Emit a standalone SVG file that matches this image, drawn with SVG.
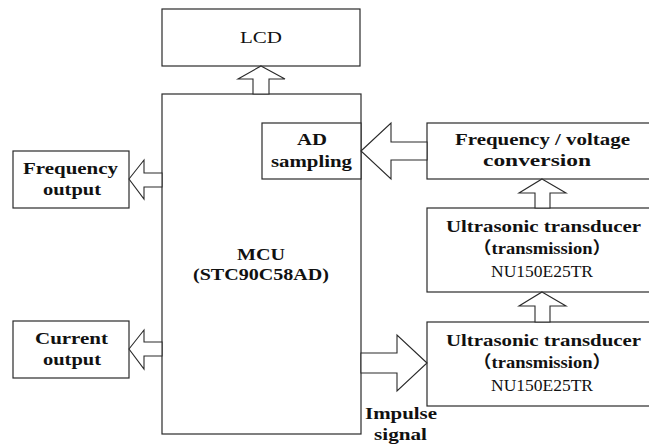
<svg xmlns="http://www.w3.org/2000/svg" width="649" height="444" viewBox="0 0 649 444">
<style>
.box{fill:#fff;stroke:#2a2a2a;stroke-width:1.2}
.arr{fill:#fff;stroke:#2a2a2a;stroke-width:1.1;stroke-linejoin:miter}
.b{font-family:"Liberation Serif","Noto Sans CJK SC",serif;font-weight:bold;font-size:17px;fill:#111}
.r{font-family:"Liberation Serif","Noto Sans CJK SC",serif;font-size:17px;fill:#111}
</style>
<rect width="649" height="444" fill="#fff"/>
<g id="mcu">
<rect class="box" x="162" y="94" width="199" height="340"/>
<text class="b" x="237" y="260" textLength="48" lengthAdjust="spacingAndGlyphs">MCU</text>
<text class="b" x="193" y="280" textLength="136" lengthAdjust="spacingAndGlyphs">(STC90C58AD)</text>
</g>
<g id="lcd">
<rect class="box" x="162" y="9" width="198" height="57"/>
<text class="r" x="240" y="43" textLength="42" lengthAdjust="spacingAndGlyphs">LCD</text>
</g>
<g id="ad">
<rect class="box" x="262" y="123" width="99" height="56"/>
<text class="b" x="297" y="145" textLength="30" lengthAdjust="spacingAndGlyphs">AD</text>
<text class="b" x="271" y="167" textLength="81" lengthAdjust="spacingAndGlyphs">sampling</text>
</g>
<g id="freq-out">
<rect class="box" x="13" y="151" width="116" height="57"/>
<text class="b" x="23" y="174" textLength="95" lengthAdjust="spacingAndGlyphs">Frequency</text>
<text class="b" x="43" y="195" textLength="58" lengthAdjust="spacingAndGlyphs">output</text>
</g>
<g id="current-out">
<rect class="box" x="13" y="321" width="116" height="57"/>
<text class="b" x="35" y="344" textLength="73" lengthAdjust="spacingAndGlyphs">Current</text>
<text class="b" x="43" y="365" textLength="58" lengthAdjust="spacingAndGlyphs">output</text>
</g>
<g id="fv">
<rect class="box" x="427" y="123" width="240" height="56"/>
<text class="b" x="455" y="145" textLength="175" lengthAdjust="spacingAndGlyphs">Frequency / voltage</text>
<text class="b" x="483" y="166" textLength="108" lengthAdjust="spacingAndGlyphs">conversion</text>
</g>
<g id="us1">
<rect class="box" x="427" y="208" width="240" height="84"/>
<text class="b" x="446" y="232" textLength="195" lengthAdjust="spacingAndGlyphs">Ultrasonic transducer</text>
<text class="b" x="473" y="254" textLength="138" lengthAdjust="spacingAndGlyphs">（transmission）</text>
<text class="r" x="491" y="277" textLength="102" lengthAdjust="spacingAndGlyphs">NU150E25TR</text>
</g>
<g id="us2">
<rect class="box" x="427" y="322" width="240" height="84"/>
<text class="b" x="446" y="346" textLength="195" lengthAdjust="spacingAndGlyphs">Ultrasonic transducer</text>
<text class="b" x="473" y="368" textLength="138" lengthAdjust="spacingAndGlyphs">（transmission）</text>
<text class="r" x="491" y="391" textLength="102" lengthAdjust="spacingAndGlyphs">NU150E25TR</text>
</g>
<g id="connectors">
<polygon class="arr" points="261,66 285,79 269,79 269,94 253,94 253,79 238,79"/>
<polygon class="arr" points="129,179 144,160 144,173 162,173 162,187 144,187 144,199"/>
<polygon class="arr" points="129,349 144,330 144,342 162,342 162,356 144,356 144,369"/>
<polygon class="arr" points="361,151 391,123 391,142 427,142 427,160 391,160 391,179"/>
<polygon class="arr" points="542,179 566,193 550,193 550,208 535,208 535,193 519,193"/>
<polygon class="arr" points="542,292 566,306 550,306 550,322 535,322 535,306 519,306"/>
<polygon class="arr" points="427,363 397,335 397,353 361,353 361,373 397,373 397,391"/>
<text class="b" x="365" y="419" textLength="72" lengthAdjust="spacingAndGlyphs">Impulse</text>
<text class="b" x="374" y="440" textLength="53" lengthAdjust="spacingAndGlyphs">signal</text>
</g>
</svg>
